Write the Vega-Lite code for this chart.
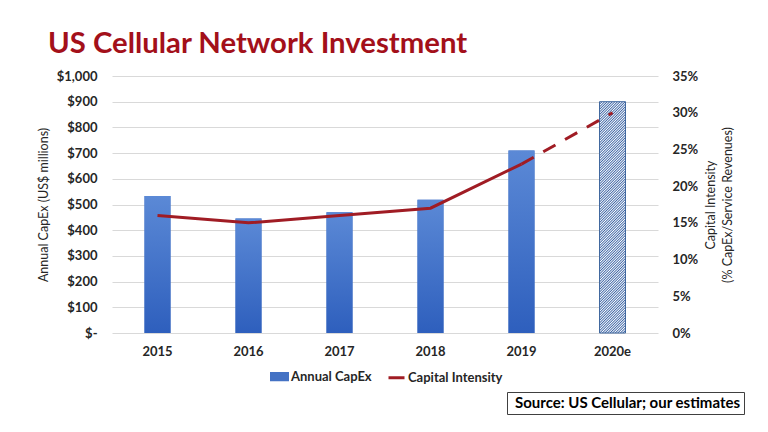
{
  "$schema": "https://vega.github.io/schema/vega-lite/v6.json",
  "width": 546,
  "height": 257,
  "autosize": {"type": "none"},
  "padding": {"left": 112, "top": 76, "right": 110, "bottom": 99},
  "background": "white",
  "title": {"text": "US Cellular Network Investment", "anchor": "start", "frame": "group", "dx": -64, "dy": 28, "offset": 16, "baseline": "alphabetic", "font": "Lato", "fontSize": 29.3, "fontWeight": "bold", "color": "#a3101a"},
  "data": {"values": [
    {"year": "2015", "capex": 533, "intensity": 0.16},
    {"year": "2016", "capex": 446, "intensity": 0.15},
    {"year": "2017", "capex": 470, "intensity": 0.16},
    {"year": "2018", "capex": 518, "intensity": 0.17},
    {"year": "2019", "capex": 710, "intensity": 0.23},
    {"year": "2020e", "capex": 900, "intensity": 0.30}
  ]},
  "encoding": {
    "x": {"field": "year", "type": "ordinal", "sort": ["2015", "2016", "2017", "2018", "2019", "2020e"],
      "scale": {"paddingInner": 0, "paddingOuter": 0},
      "axis": {"title": null, "labelAngle": 0, "domain": false, "ticks": false, "grid": false, "labelPadding": 12, "labelFont": "Lato", "labelFontSize": 13, "labelFontWeight": "bold", "labelColor": "#262626"}}
  },
  "layer": [
    {"layer": [
      {"transform": [{"filter": "datum.year !== '2020e'"}],
       "mark": {"type": "bar", "size": 26},
       "encoding": {
         "y": {"field": "capex", "type": "quantitative", "scale": {"domain": [0, 1000], "nice": false},
           "axis": {"orient": "left", "title": "Annual CapEx (US$ millions)", "values": [0, 100, 200, 300, 400, 500, 600, 700, 800, 900, 1000], "tickCount": 11,
             "labelExpr": "datum.value === 0 ? '$-\u00a0\u00a0\u00a0' : '$' + format(datum.value, ',')", "labelOverlap": false,
             "grid": true, "gridColor": "#d9d9d9", "domain": false, "ticks": false, "labelPadding": 15,
             "labelFont": "Lato", "labelFontSize": 13, "labelFontWeight": "bold", "labelColor": "#262626",
             "titleFont": "Lato", "titleFontSize": 12.5, "titleFontWeight": "normal", "titleColor": "#262626", "titlePadding": 6}},
         "color": {"datum": "Annual CapEx", "type": "nominal",
           "scale": {"domain": ["Annual CapEx", "Capital Intensity"], "range": ["#4472c4", "#a01c24"]},
           "legend": {"orient": "none", "legendX": 158, "legendY": 291, "direction": "horizontal", "title": null, "padding": 0,
             "labelFont": "Lato", "labelFontSize": 13, "labelFontWeight": "bold", "labelColor": "#262626",
             "symbolSize": 256, "columnPadding": 10, "labelOffset": 2,
             "encode": {"symbols": {"update": {
               "shape": {"signal": "datum.value === 'Annual CapEx' ? 'M-1,-0.4H1V0.4H-1Z' : 'stroke'"},
               "fill": {"signal": "datum.value === 'Annual CapEx' ? '#4472c4' : 'transparent'"},
               "stroke": {"signal": "datum.value === 'Annual CapEx' ? 'transparent' : '#a01c24'"},
               "strokeWidth": {"value": 3},
               "opacity": {"value": 1}}}}}}
       }},
      {"mark": {"type": "bar", "size": 26},
       "encoding": {
         "y": {"field": "capex", "type": "quantitative",
           "axis": {"orient": "left", "title": "Annual CapEx (US$ millions)", "values": [0, 100, 200, 300, 400, 500, 600, 700, 800, 900, 1000], "tickCount": 11,
             "labelExpr": "datum.value === 0 ? '$-\u00a0\u00a0\u00a0' : '$' + format(datum.value, ',')", "labelOverlap": false,
             "grid": true, "gridColor": "#d9d9d9", "domain": false, "ticks": false, "labelPadding": 15,
             "labelFont": "Lato", "labelFontSize": 13, "labelFontWeight": "bold", "labelColor": "#262626",
             "titleFont": "Lato", "titleFontSize": 12.5, "titleFontWeight": "normal", "titleColor": "#262626", "titlePadding": 6}},
         "fill": {
           "condition": {"test": "datum.year === '2020e'", "value": {"gradient": "linear", "x1": 0, "y1": 0, "x2": 0.1235, "y2": 1.0985, "stops": [
{"offset":0,"color":"#3f67a7"},{"offset":0.005,"color":"#fff"},{"offset":0.01,"color":"#3f67a7"},{"offset":0.015,"color":"#fff"},{"offset":0.02,"color":"#3f67a7"},{"offset":0.025,"color":"#fff"},{"offset":0.03,"color":"#3f67a7"},{"offset":0.035,"color":"#fff"},{"offset":0.04,"color":"#3f67a7"},{"offset":0.045,"color":"#fff"},{"offset":0.05,"color":"#3f67a7"},{"offset":0.055,"color":"#fff"},{"offset":0.06,"color":"#3f67a7"},{"offset":0.065,"color":"#fff"},{"offset":0.07,"color":"#3f67a7"},{"offset":0.075,"color":"#fff"},{"offset":0.08,"color":"#3f67a7"},{"offset":0.085,"color":"#fff"},{"offset":0.09,"color":"#3f67a7"},{"offset":0.095,"color":"#fff"},
{"offset":0.1,"color":"#3f67a7"},{"offset":0.105,"color":"#fff"},{"offset":0.11,"color":"#3f67a7"},{"offset":0.115,"color":"#fff"},{"offset":0.12,"color":"#3f67a7"},{"offset":0.125,"color":"#fff"},{"offset":0.13,"color":"#3f67a7"},{"offset":0.135,"color":"#fff"},{"offset":0.14,"color":"#3f67a7"},{"offset":0.145,"color":"#fff"},{"offset":0.15,"color":"#3f67a7"},{"offset":0.155,"color":"#fff"},{"offset":0.16,"color":"#3f67a7"},{"offset":0.165,"color":"#fff"},{"offset":0.17,"color":"#3f67a7"},{"offset":0.175,"color":"#fff"},{"offset":0.18,"color":"#3f67a7"},{"offset":0.185,"color":"#fff"},{"offset":0.19,"color":"#3f67a7"},{"offset":0.195,"color":"#fff"},
{"offset":0.2,"color":"#3f67a7"},{"offset":0.205,"color":"#fff"},{"offset":0.21,"color":"#3f67a7"},{"offset":0.215,"color":"#fff"},{"offset":0.22,"color":"#3f67a7"},{"offset":0.225,"color":"#fff"},{"offset":0.23,"color":"#3f67a7"},{"offset":0.235,"color":"#fff"},{"offset":0.24,"color":"#3f67a7"},{"offset":0.245,"color":"#fff"},{"offset":0.25,"color":"#3f67a7"},{"offset":0.255,"color":"#fff"},{"offset":0.26,"color":"#3f67a7"},{"offset":0.265,"color":"#fff"},{"offset":0.27,"color":"#3f67a7"},{"offset":0.275,"color":"#fff"},{"offset":0.28,"color":"#3f67a7"},{"offset":0.285,"color":"#fff"},{"offset":0.29,"color":"#3f67a7"},{"offset":0.295,"color":"#fff"},
{"offset":0.3,"color":"#3f67a7"},{"offset":0.305,"color":"#fff"},{"offset":0.31,"color":"#3f67a7"},{"offset":0.315,"color":"#fff"},{"offset":0.32,"color":"#3f67a7"},{"offset":0.325,"color":"#fff"},{"offset":0.33,"color":"#3f67a7"},{"offset":0.335,"color":"#fff"},{"offset":0.34,"color":"#3f67a7"},{"offset":0.345,"color":"#fff"},{"offset":0.35,"color":"#3f67a7"},{"offset":0.355,"color":"#fff"},{"offset":0.36,"color":"#3f67a7"},{"offset":0.365,"color":"#fff"},{"offset":0.37,"color":"#3f67a7"},{"offset":0.375,"color":"#fff"},{"offset":0.38,"color":"#3f67a7"},{"offset":0.385,"color":"#fff"},{"offset":0.39,"color":"#3f67a7"},{"offset":0.395,"color":"#fff"},
{"offset":0.4,"color":"#3f67a7"},{"offset":0.405,"color":"#fff"},{"offset":0.41,"color":"#3f67a7"},{"offset":0.415,"color":"#fff"},{"offset":0.42,"color":"#3f67a7"},{"offset":0.425,"color":"#fff"},{"offset":0.43,"color":"#3f67a7"},{"offset":0.435,"color":"#fff"},{"offset":0.44,"color":"#3f67a7"},{"offset":0.445,"color":"#fff"},{"offset":0.45,"color":"#3f67a7"},{"offset":0.455,"color":"#fff"},{"offset":0.46,"color":"#3f67a7"},{"offset":0.465,"color":"#fff"},{"offset":0.47,"color":"#3f67a7"},{"offset":0.475,"color":"#fff"},{"offset":0.48,"color":"#3f67a7"},{"offset":0.485,"color":"#fff"},{"offset":0.49,"color":"#3f67a7"},{"offset":0.495,"color":"#fff"},
{"offset":0.5,"color":"#3f67a7"},{"offset":0.505,"color":"#fff"},{"offset":0.51,"color":"#3f67a7"},{"offset":0.515,"color":"#fff"},{"offset":0.52,"color":"#3f67a7"},{"offset":0.525,"color":"#fff"},{"offset":0.53,"color":"#3f67a7"},{"offset":0.535,"color":"#fff"},{"offset":0.54,"color":"#3f67a7"},{"offset":0.545,"color":"#fff"},{"offset":0.55,"color":"#3f67a7"},{"offset":0.555,"color":"#fff"},{"offset":0.56,"color":"#3f67a7"},{"offset":0.565,"color":"#fff"},{"offset":0.57,"color":"#3f67a7"},{"offset":0.575,"color":"#fff"},{"offset":0.58,"color":"#3f67a7"},{"offset":0.585,"color":"#fff"},{"offset":0.59,"color":"#3f67a7"},{"offset":0.595,"color":"#fff"},
{"offset":0.6,"color":"#3f67a7"},{"offset":0.605,"color":"#fff"},{"offset":0.61,"color":"#3f67a7"},{"offset":0.615,"color":"#fff"},{"offset":0.62,"color":"#3f67a7"},{"offset":0.625,"color":"#fff"},{"offset":0.63,"color":"#3f67a7"},{"offset":0.635,"color":"#fff"},{"offset":0.64,"color":"#3f67a7"},{"offset":0.645,"color":"#fff"},{"offset":0.65,"color":"#3f67a7"},{"offset":0.655,"color":"#fff"},{"offset":0.66,"color":"#3f67a7"},{"offset":0.665,"color":"#fff"},{"offset":0.67,"color":"#3f67a7"},{"offset":0.675,"color":"#fff"},{"offset":0.68,"color":"#3f67a7"},{"offset":0.685,"color":"#fff"},{"offset":0.69,"color":"#3f67a7"},{"offset":0.695,"color":"#fff"},
{"offset":0.7,"color":"#3f67a7"},{"offset":0.705,"color":"#fff"},{"offset":0.71,"color":"#3f67a7"},{"offset":0.715,"color":"#fff"},{"offset":0.72,"color":"#3f67a7"},{"offset":0.725,"color":"#fff"},{"offset":0.73,"color":"#3f67a7"},{"offset":0.735,"color":"#fff"},{"offset":0.74,"color":"#3f67a7"},{"offset":0.745,"color":"#fff"},{"offset":0.75,"color":"#3f67a7"},{"offset":0.755,"color":"#fff"},{"offset":0.76,"color":"#3f67a7"},{"offset":0.765,"color":"#fff"},{"offset":0.77,"color":"#3f67a7"},{"offset":0.775,"color":"#fff"},{"offset":0.78,"color":"#3f67a7"},{"offset":0.785,"color":"#fff"},{"offset":0.79,"color":"#3f67a7"},{"offset":0.795,"color":"#fff"},
{"offset":0.8,"color":"#3f67a7"},{"offset":0.805,"color":"#fff"},{"offset":0.81,"color":"#3f67a7"},{"offset":0.815,"color":"#fff"},{"offset":0.82,"color":"#3f67a7"},{"offset":0.825,"color":"#fff"},{"offset":0.83,"color":"#3f67a7"},{"offset":0.835,"color":"#fff"},{"offset":0.84,"color":"#3f67a7"},{"offset":0.845,"color":"#fff"},{"offset":0.85,"color":"#3f67a7"},{"offset":0.855,"color":"#fff"},{"offset":0.86,"color":"#3f67a7"},{"offset":0.865,"color":"#fff"},{"offset":0.87,"color":"#3f67a7"},{"offset":0.875,"color":"#fff"},{"offset":0.88,"color":"#3f67a7"},{"offset":0.885,"color":"#fff"},{"offset":0.89,"color":"#3f67a7"},{"offset":0.895,"color":"#fff"},
{"offset":0.9,"color":"#3f67a7"},{"offset":0.905,"color":"#fff"},{"offset":0.91,"color":"#3f67a7"},{"offset":0.915,"color":"#fff"},{"offset":0.92,"color":"#3f67a7"},{"offset":0.925,"color":"#fff"},{"offset":0.93,"color":"#3f67a7"},{"offset":0.935,"color":"#fff"},{"offset":0.94,"color":"#3f67a7"},{"offset":0.945,"color":"#fff"},{"offset":0.95,"color":"#3f67a7"},{"offset":0.955,"color":"#fff"},{"offset":0.96,"color":"#3f67a7"},{"offset":0.965,"color":"#fff"},{"offset":0.97,"color":"#3f67a7"},{"offset":0.975,"color":"#fff"},{"offset":0.98,"color":"#3f67a7"},{"offset":0.985,"color":"#fff"},{"offset":0.99,"color":"#3f67a7"},{"offset":0.995,"color":"#fff"},
{"offset":1,"color":"#3f67a7"}
           ]}},
           "value": {"gradient": "linear", "x1": 0, "y1": 0, "x2": 0, "y2": 1, "stops": [{"offset": 0, "color": "#5b89d6"}, {"offset": 1, "color": "#2e5fbd"}]}
         },
         "stroke": {"condition": {"test": "datum.year === '2020e'", "value": "#41689f"}, "value": null},
         "strokeWidth": {"value": 1}
       }}
    ]},
    {"layer": [
      {"transform": [{"filter": "datum.year !== '2020e'"}],
       "mark": {"type": "line", "strokeWidth": 3},
       "encoding": {
         "y": {"field": "intensity", "type": "quantitative", "scale": {"domain": [0, 0.35], "nice": false},
           "axis": {"orient": "right", "title": ["Capital Intensity", "(% CapEx/Service Revenues)"],
             "values": [0, 0.05, 0.1, 0.15, 0.2, 0.25, 0.3, 0.35], "tickCount": 8, "format": ".0%", "labelOverlap": false,
             "grid": false, "domain": false, "ticks": false, "labelPadding": 14,
             "labelFont": "Lato", "labelFontSize": 13, "labelFontWeight": "bold", "labelColor": "#262626",
             "titleFont": "Lato", "titleFontSize": 12.5, "titleFontWeight": "normal", "titleColor": "#262626",
             "titleAngle": -90, "titlePadding": 3, "titleLineHeight": 17}},
         "color": {"datum": "Capital Intensity", "type": "nominal"}
       }},
      {"transform": [{"filter": "datum.year === '2019' || datum.year === '2020e'"}],
       "mark": {"type": "line", "strokeWidth": 3, "strokeDash": [14, 11], "color": "#a01c24"},
       "encoding": {"y": {"field": "intensity", "type": "quantitative",
           "axis": {"orient": "right", "title": ["Capital Intensity", "(% CapEx/Service Revenues)"],
             "values": [0, 0.05, 0.1, 0.15, 0.2, 0.25, 0.3, 0.35], "tickCount": 8, "format": ".0%", "labelOverlap": false,
             "grid": false, "domain": false, "ticks": false, "labelPadding": 14,
             "labelFont": "Lato", "labelFontSize": 13, "labelFontWeight": "bold", "labelColor": "#262626",
             "titleFont": "Lato", "titleFontSize": 12.5, "titleFontWeight": "normal", "titleColor": "#262626",
             "titleAngle": -90, "titlePadding": 3, "titleLineHeight": 17}}}},
      {"transform": [{"filter": "datum.year === '2020e'"}],
       "mark": {"type": "point", "opacity": 0},
       "encoding": {
         "y": {"field": "intensity", "type": "quantitative",
           "axis": {"orient": "right", "title": ["Capital Intensity", "(% CapEx/Service Revenues)"],
             "values": [0, 0.05, 0.1, 0.15, 0.2, 0.25, 0.3, 0.35], "tickCount": 8, "format": ".0%", "labelOverlap": false,
             "grid": false, "domain": false, "ticks": false, "labelPadding": 14,
             "labelFont": "Lato", "labelFontSize": 13, "labelFontWeight": "bold", "labelColor": "#262626",
             "titleFont": "Lato", "titleFontSize": 12.5, "titleFontWeight": "normal", "titleColor": "#262626",
             "titleAngle": -90, "titlePadding": 3, "titleLineHeight": 17}},
         "shape": {"datum": "Source: US Cellular; our estimates", "type": "nominal",
           "legend": {"orient": "none", "legendX": 395, "legendY": 316, "title": null, "padding": 3,
             "strokeColor": "#404040", "fillColor": "white", "symbolSize": 0, "symbolOpacity": 0, "labelOffset": -10, "labelLimit": 0,
             "labelFont": "Lato", "labelFontSize": 15, "labelFontWeight": "bold", "labelColor": "#000000"}}
       }}
    ]}
  ],
  "resolve": {"scale": {"y": "independent"}},
  "config": {"view": {"stroke": null}, "font": "Lato"}
}
